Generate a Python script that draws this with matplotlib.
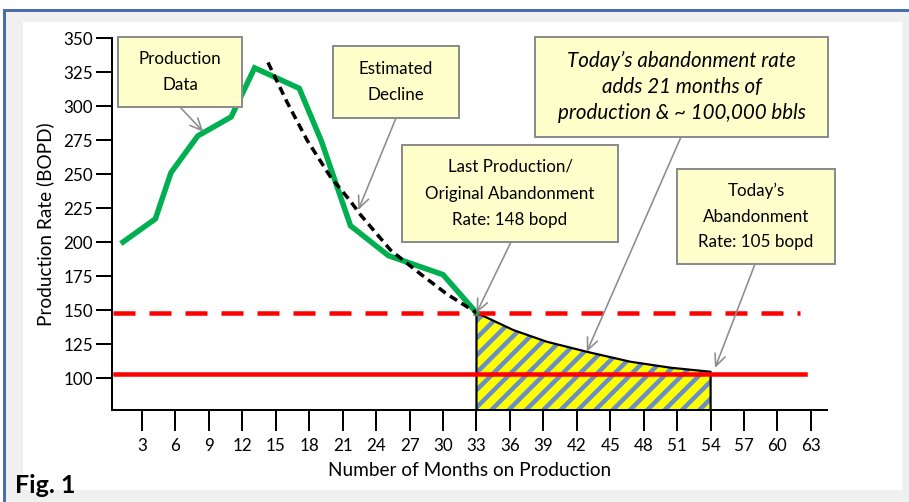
import matplotlib
matplotlib.use("Agg")
import matplotlib.pyplot as plt
from matplotlib.patches import Rectangle

# dane (miesiac, BOPD)
prod_months = [1.3, 4.2, 5.6, 8.0, 11.0, 13.1, 17.1, 19.1, 21.7, 25.1, 30.0, 33.0]
prod_rate = [200, 217, 251, 278, 292, 328, 313, 274, 212, 190, 176, 148]

decline_months = [14.3, 16.0, 17.8, 19.9, 21.7, 22.6, 25.3, 27.9, 30.3, 33.0]
decline_rate = [332, 303, 275, 248, 230, 220, 194, 177, 162, 148]

tail_months = [33.0, 36.3, 39.3, 42.9, 46.8, 50.4, 54.0]
tail_rate = [148, 135.3, 126.7, 119.3, 112.0, 107.6, 104.6]

orig_rate = 148
today_rate = 103
x_ticks = list(range(3, 64, 3))
y_ticks = list(range(100, 351, 25))

DPI = 104
W, H = 909, 502
FONT = "Lato"


def pt(px):
    return px * 72 / DPI


def fx(x):
    return x / W


def fy(y):
    return 1 - y / H


plt.rcParams['font.family'] = [FONT, 'DejaVu Sans']
plt.rcParams['hatch.linewidth'] = pt(4.5)

fig = plt.figure(figsize=(W / DPI, H / DPI), dpi=DPI)
fig.patch.set_facecolor('white')


def rect(x0, y0, x1, y1, **kw):
    r = Rectangle((fx(x0), fy(y1)), fx(x1) - fx(x0), fy(y0) - fy(y1),
                  transform=fig.transFigure, **kw)
    fig.patches.append(r)
    return r


# tlo: szara ramka, biały panel, niebieskie linie
rect(5, 10, W, H, facecolor='#f0f0f0', edgecolor='none', zorder=-5)
rect(23, 22, 902, 490, facecolor='white', edgecolor='none', zorder=-4)
rect(3, 9, W, 11.5, facecolor='#4a6ea9', edgecolor='none', zorder=-3)
rect(3, 9, 6, H, facecolor='#4a6ea9', edgecolor='none', zorder=-3)

ax = fig.add_axes([fx(112), fy(410), fx(827) - fx(112), fy(38) - fy(410)])
ax.patch.set_visible(False)
ax.set_xlim(0.31, 64.44)
ax.set_ylim(76.5, 350)
for s in ['top', 'right']:
    ax.spines[s].set_visible(False)
for s in ['left', 'bottom']:
    ax.spines[s].set_linewidth(pt(2))

ax.set_xticks(x_ticks)
ax.set_yticks(y_ticks)
ax.tick_params(axis='x', direction='out', length=pt(21), width=pt(2), pad=pt(7),
               labelsize=pt(17))
ax.tick_params(axis='y', direction='out', length=pt(16), width=pt(2), pad=pt(3),
               labelsize=pt(17))
ax.set_xlabel('Number of Months on Production', fontsize=pt(19), labelpad=pt(8))
ax.set_ylabel('Production Rate (BOPD)', fontsize=pt(19), labelpad=pt(9))

# zakreskowany obszar
bottom = ax.get_ylim()[0]
ax.fill_between(tail_months, bottom, tail_rate, facecolor='#ffff00',
                edgecolor='#6a8fc6', hatch='//', linewidth=0, zorder=2)
ax.plot([tail_months[0]] + tail_months + [tail_months[-1]],
        [bottom] + tail_rate + [bottom], color='black', lw=pt(2.2), zorder=3,
        clip_on=False)

# linie czerwone
ax.plot([0.4, 62.0], [orig_rate, orig_rate], color='#ff0000', lw=pt(4.5),
        dashes=(22 / 4.5, 14 / 4.5), zorder=4)
ax.plot([0.58, 62.5], [today_rate, today_rate], color='#ff0000', lw=pt(4.5), zorder=4)

ax.plot(prod_months, prod_rate, color='#00b050', lw=pt(5.5), zorder=5,
        solid_joinstyle='miter')
ax.plot(decline_months, decline_rate, color='black', lw=pt(3.5), dashes=(2.4, 1.5),
        zorder=6)

arrow = dict(arrowstyle='->,head_length=1.0,head_width=0.45', color='#8c8c8c',
             lw=pt(1.6), shrinkA=0, shrinkB=0, mutation_scale=pt(12))


def callout(box, lines, tail, tip, italic=False, size=17, step=26):
    x0, y0, x1, y1 = box
    rect(x0, y0, x1, y1, facecolor='#ffffcc', edgecolor='#8c8c8c', lw=pt(2), zorder=8)
    cx = (x0 + x1) / 2
    n = len(lines)
    cy = (y0 + y1) / 2
    for i, s in enumerate(lines):
        y = cy + (i - (n - 1) / 2) * step
        fig.text(fx(cx), fy(y), s, ha='center', va='center', fontsize=pt(size),
                 style='italic' if italic else 'normal', zorder=9)
    ax.annotate('', xy=tip, xycoords='data', xytext=(tail[0], H - tail[1]),
                textcoords='figure pixels', arrowprops=arrow, zorder=7)


callout((118, 37, 242, 107), ['Production', 'Data'], (180, 107), (8.5, 281))
callout((333, 46, 459, 118), ['Estimated', 'Decline'], (396, 118), (22.4, 223.5))
callout((535, 37, 828, 137),
        ['Today\u2019s abandonment rate', 'adds 21 months of',
         'production & ~ 100,000 bbls'],
        (681, 137), (42.9, 119.3), italic=True, size=20.5)
callout((402, 145, 618, 242),
        ['Last Production/', 'Original Abandonment', 'Rate: 148 bopd'],
        (511, 242), (33.0, 147.8), step=27)
callout((677, 169, 835, 264),
        ['Today\u2019s', 'Abandonment', 'Rate: 105 bopd'],
        (755, 264), (54.4, 107.4), step=26)

fig.text(fx(15), fy(493), 'Fig. 1', fontsize=pt(25), fontweight='bold',
         ha='left', va='baseline')

fig.savefig('out.png', dpi=DPI)
